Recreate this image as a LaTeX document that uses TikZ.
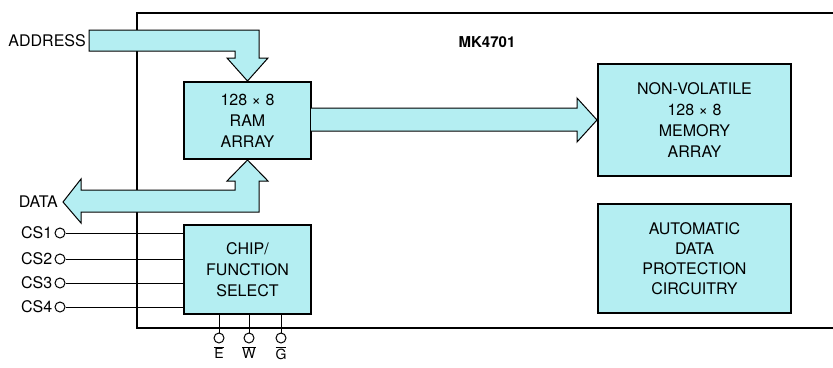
\documentclass[tikz,border=0pt]{standalone}
\usepackage{fontspec}
\setmainfont{TeX Gyre Heros}
\usepackage{tikz}
\usetikzlibrary{positioning,calc}
\definecolor{chipcyan}{RGB}{180,238,242}

\begin{document}
\begin{tikzpicture}[
    x=1pt, y=-1pt,
    block/.style={draw, line width=2pt, fill=chipcyan, align=center, inner sep=0pt, font=\fontsize{16}{21}\selectfont},
    bus/.style={draw, line width=1pt, fill=chipcyan, line join=miter},
    pin/.style={draw, circle, line width=1pt, minimum size=10pt, inner sep=0pt, fill=white},
    sig/.style={line width=1pt},
    lbl/.style={inner sep=0pt, font=\fontsize{16}{18}\selectfont}
]
\useasboundingbox (0,0) rectangle (833,367);

% chip outline
\draw[line width=1.8pt] (833,13) -- (137,13) -- (137,328) -- (833,328);
\node[font=\bfseries\fontsize{15}{15}\selectfont] (title) at (487,42) {MK4701};

% blocks
\node[block, minimum width=127pt, minimum height=77pt] (ram) at (247.5,120.5) {128 × 8\\RAM\\ARRAY};
\node[block, minimum width=127pt, minimum height=89pt] (cfs) at (247.5,269.5) {CHIP/\\FUNCTION\\SELECT};
\node[block, minimum width=193pt, minimum height=112pt] (nvm) at (694.5,120) {NON-VOLATILE\\128 × 8\\MEMORY\\ARRAY};
\node[block, minimum width=193pt, minimum height=109pt, below=26pt of nvm, font=\fontsize{16}{20}\selectfont] (adp) {AUTOMATIC\\DATA\\PROTECTION\\CIRCUITRY};

% buses
\node[lbl, anchor=east] (addr) at (86,41) {ADDRESS};
\draw[bus] (89,30) -- (259,30) -- (259,58) -- (268,58) -- (ram.north) -- (227,58) -- (235,58) -- (235,51) -- (89,51) -- cycle;
\node[lbl, anchor=east] (data) at (58,202) {DATA};
\draw[bus] (ram.south) -- (268,181) -- (259,181) -- (259,212) -- (81,212) -- (81,223) -- (data.east -| 63,0) -- (81,179) -- (81,190) -- (235,190) -- (235,181) -- (227,181) -- cycle;
\draw[bus] (311,108) -- (577,108) -- (577,98) -- (nvm.west) -- (577,142) -- (577,131) -- (311,131);

% chip select pins
\foreach \i/\y in {1/233, 2/259, 3/283, 4/307} {
  \node[pin] (cs\i) at (60,\y) {};
  \node[lbl, left=2pt of cs\i] (cslbl\i) {CS\i};
  \draw[sig] (cs\i) -- (cs\i -| cfs.west);
}

% control pins
\foreach \n/\x/\t in {e/219/E, w/249/W, g/281/G} {
  \node[pin] (\n) at (\x,338) {};
  \draw[sig] (\n) -- (\n |- cfs.south);
  \node[inner sep=0pt, below=3pt of \n, font=\fontsize{14}{14}\selectfont] (\n lbl) {$\overline{\mbox{\t}}$};
}
\end{tikzpicture}
\end{document}
